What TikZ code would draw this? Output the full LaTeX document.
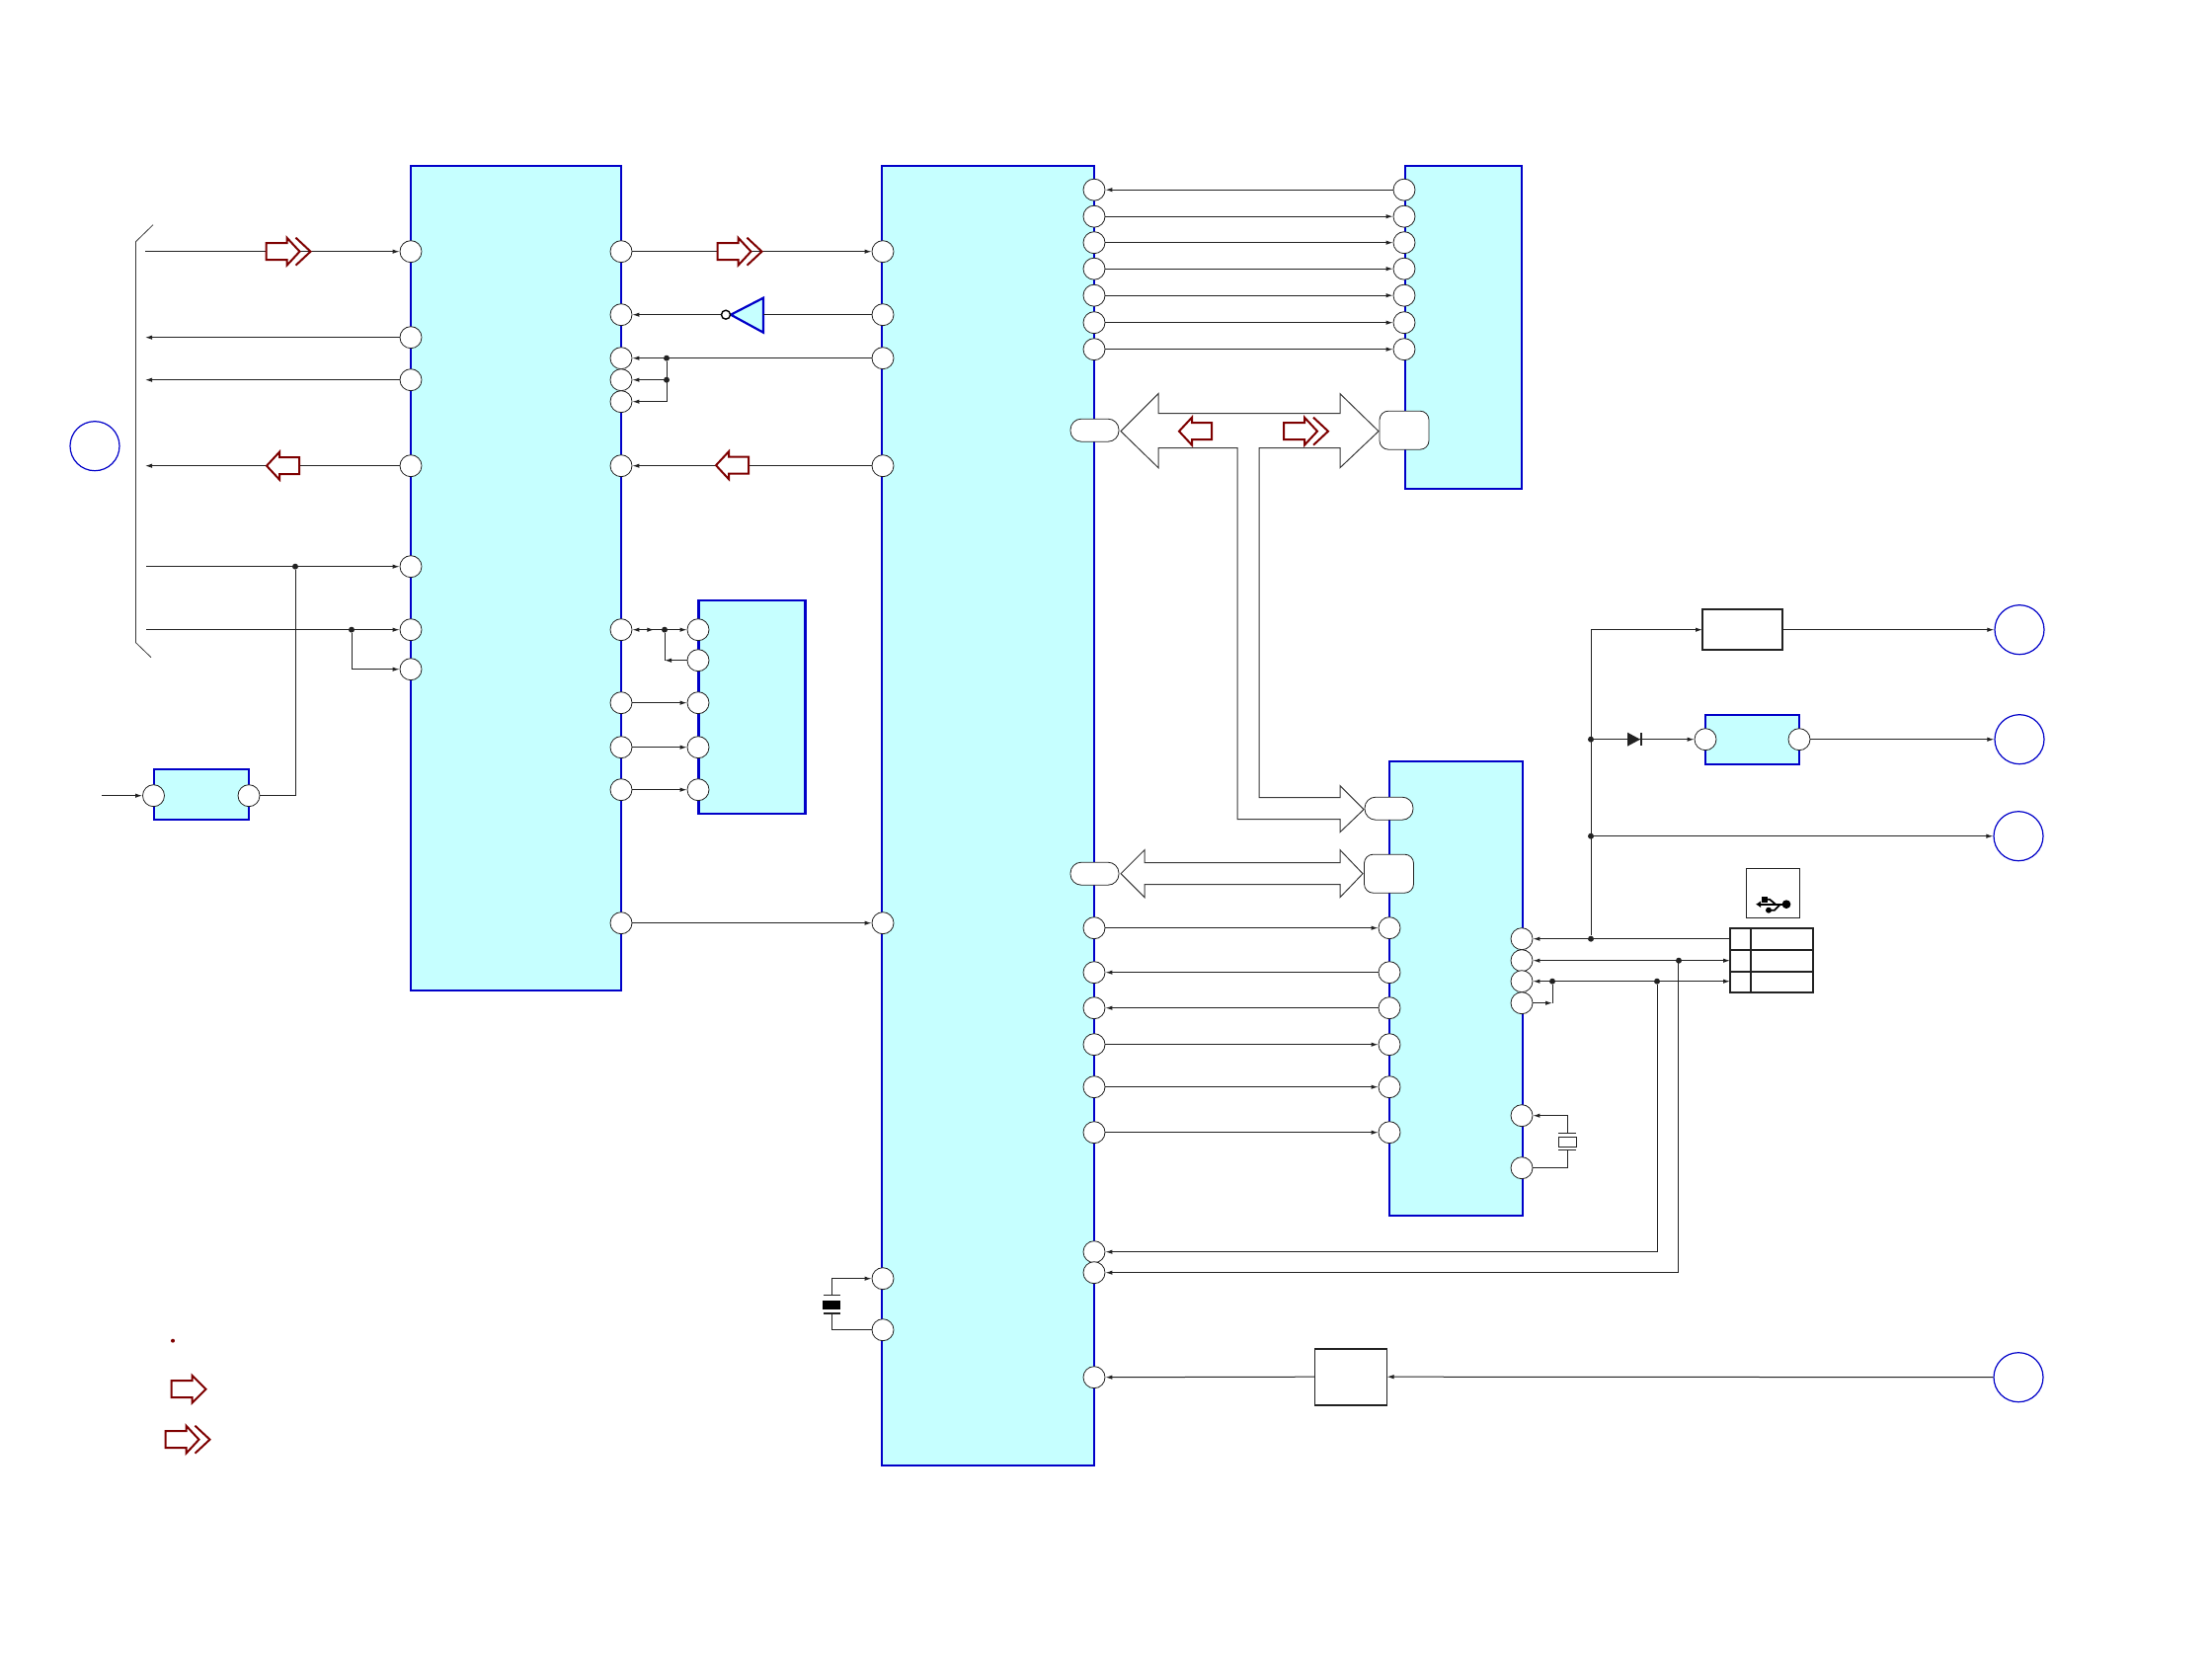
\documentclass[tikz,border=0pt]{standalone}
\usepackage{xcolor}
\usetikzlibrary{arrows.meta,calc}
\definecolor{icblue}{HTML}{0000C8}
\definecolor{icfill}{HTML}{C6FFFF}
\definecolor{flowred}{HTML}{7E0000}
\definecolor{wireblack}{HTML}{222222}
\definecolor{busgray}{HTML}{3A3A3A}
\tikzset{
  block/.style 2 args={draw=icblue, fill=icfill, line width=1.1pt, inner sep=0pt, outer sep=0pt,
    minimum width=#1*0.5pt, minimum height=#2*0.5pt},
  plainbox/.style 2 args={draw=wireblack, fill=white, line width=0.9pt, inner sep=0pt, outer sep=0pt,
    minimum width=#1*0.5pt, minimum height=#2*0.5pt},
  pin/.style={circle, draw=wireblack, fill=white, line width=0.4pt, inner sep=0pt, minimum size=11pt},
  padlong/.style={rectangle, rounded corners=5.5pt, draw=wireblack, fill=white, line width=0.4pt,
    inner sep=0pt, minimum width=24.5pt, minimum height=11.5pt},
  padbig/.style={rectangle, rounded corners=4.5pt, draw=wireblack, fill=white, line width=0.4pt,
    inner sep=0pt, minimum width=25pt, minimum height=19.5pt},
  port/.style={circle, draw=icblue, line width=0.6pt, inner sep=0pt, minimum size=25pt},
  junct/.style={circle, fill=wireblack, inner sep=0pt, minimum size=3pt},
  wire/.style={draw=wireblack, line width=0.5pt},
  sig/.style={wire, -{Latex[length=3.5pt,width=2.2pt]}},
  sigboth/.style={wire, {Latex[length=3.5pt,width=2.2pt]}-{Latex[length=3.5pt,width=2.2pt]}},
  bus/.style={draw=busgray, fill=white, line width=0.5pt, line join=miter},
  flow/.style={draw=flowred, fill=white, line width=1pt, line join=miter},
  flowleft/.pic={\draw[flow] (0,0) -- (13,-14) -- (13,-8.5) -- (33,-8.5) -- (33,8.5) -- (13,8.5) -- (13,14) -- cycle;},
  flowright/.pic={\draw[flow] (0,-8.5) -- (21,-8.5) -- (21,-14) -- (35,0) -- (21,14) -- (21,8.5) -- (0,8.5) -- cycle;},
  flowdouble/.pic={\draw[flow] (0,-8.5) -- (21,-8.5) -- (21,-14) -- (34,0) -- (21,14) -- (21,8.5) -- (0,8.5) -- cycle;
    \draw[flow, fill=none] (30,-14) -- (45,0) -- (30,14);},
}
\begin{document}
\begin{tikzpicture}[x=0.5pt,y=-0.5pt]
  \useasboundingbox (0,-0.7) rectangle (2240,1683.3);
  % blocks
  \node[block={213}{835}] (ica) at (522.5,585) {};
  \node[block={215}{1316}] (icb) at (1000.5,825.5) {};
  \node[block={108}{216}] (icc) at (761.5,715.5) {};
  \node[block={118}{327}] (icd) at (1482,331) {};
  \node[block={135}{460}] (ice) at (1474.5,1000.5) {};
  \node[block={96}{51}] (icf) at (204,804) {};
  \node[block={95}{50}] (ich) at (1774.5,748.5) {};
  \node[plainbox={81}{41}] (fuse) at (1764.5,637) {};
  \node[plainbox={73}{57}] (reg) at (1368,1393.5) {};
  % bracket on the left
  \draw[busgray, line width=0.4pt] (155,227) -- (137.5,244) -- (137.5,650) -- (153,665);
  % buses
  \draw[bus] (1135,436) -- (1173,398) -- (1173,418) -- (1357,418) -- (1357,398) -- (1396,436)
    -- (1357,473) -- (1357,453) -- (1275,453) -- (1275,807) -- (1357,807) -- (1357,795)
    -- (1381,819) -- (1357,842) -- (1357,829) -- (1253,829) -- (1253,453) -- (1173,453)
    -- (1173,473) -- cycle;
  \draw[bus] (1135,884) -- (1159,860) -- (1159,873) -- (1357,873) -- (1357,860) -- (1380,884)
    -- (1357,908) -- (1357,895) -- (1159,895) -- (1159,908) -- cycle;
  % pins
  \foreach \n/\y in {1/254,2/341,3/384,4/471,5/573,6/637,7/677}
    \node[pin] (al\n) at (416,\y) {};
  \foreach \n/\y in {1/254,2/318,3/362,4/384,5/406,6/471,7/637,8/711,9/756,10/799,11/934}
    \node[pin] (ar\n) at (629,\y) {};
  \foreach \n/\y in {1/254,2/318,3/362,4/471,5/934,6/1294,7/1346}
    \node[pin] (bl\n) at (894,\y) {};
  \foreach \n/\y in {1/191.5,2/218.5,3/245,4/271.5,5/298.5,6/326,7/353,8/939,9/984,10/1020,11/1057,12/1100,13/1146,14/1267,15/1288,16/1394}
    \node[pin] (br\n) at (1108,\y) {};
  \foreach \n/\y in {1/637,2/668,3/711,4/756,5/799}
    \node[pin] (cl\n) at (707,\y) {};
  \foreach \n/\y in {1/191.5,2/218.5,3/245,4/271.5,5/298.5,6/326,7/353}
    \node[pin] (dl\n) at (1422,\y) {};
  \foreach \n/\y in {1/939,2/984,3/1020,4/1057,5/1100,6/1146}
    \node[pin] (el\n) at (1407,\y) {};
  \foreach \n/\y in {1/950,2/972,3/993,4/1015,5/1129,6/1182}
    \node[pin] (er\n) at (1541,\y) {};
  \node[pin] (fl) at (155.5,805) {};
  \node[pin] (fr) at (252,805) {};
  \node[pin] (hl) at (1727,748) {};
  \node[pin] (hr) at (1822,748) {};
  \node[padlong] (padb1) at (1108.5,435) {};
  \node[padlong] (padb2) at (1108.5,884) {};
  \node[padbig] (padd) at (1422,435) {};
  \node[padlong] (pade1) at (1406.5,818) {};
  \node[padbig] (pade2) at (1406.5,884) {};
  % ports
  \node[port] (conn) at (96,451) {};
  \node[port] (outa) at (2045,637) {};
  \node[port] (outb) at (2045,748) {};
  \node[port] (outc) at (2044,846) {};
  \node[port] (outd) at (2044,1394) {};
  % left side
  \coordinate (cn1) at (147,254);
  \coordinate (cn2) at (147,341);
  \coordinate (cn3) at (147,384);
  \coordinate (cn4) at (147,471);
  \coordinate (cn5) at (148,573);
  \coordinate (cn6) at (148,637);
  \coordinate (inf) at (103,805);
  \node[junct] (j1) at (299,573) {};
  \node[junct] (j2) at (356,637) {};
  \draw[sig] (cn1) -- (al1);
  \draw[sig] (al2) -- (cn2);
  \draw[sig] (al3) -- (cn3);
  \draw[sig] (al4) -- (cn4);
  \draw[sig] (cn5) -- (al5);
  \draw[sig] (cn6) -- (al6);
  \draw[wire] (fr) -| (j1);
  \draw[sig] (j2) |- (al7);
  \draw[sig] (inf) -- (fl);
  % between the two large blocks
  \node[junct] (j3) at (675,362) {};
  \node[junct] (j4) at (675,384) {};
  \node[junct] (j5) at (673,637) {};
  \coordinate (bend) at (675,406);
  \coordinate (memc) at (673,668);
  \draw[sig] (ar1) -- (bl1);
  \draw[fill=icfill, draw=icblue, line width=1.1pt, line join=miter] (773,301) -- (773,336) -- (740,318) -- cycle;
  \node[circle, draw=black, fill=white, line width=0.7pt, inner sep=0pt, minimum size=4.5pt] (inv) at (735,318) {};
  \draw[wire] (bl2) -- (773,318);
  \draw[sig] (inv) -- (ar2);
  \draw[sig] (bl3) -- (ar3);
  \draw[wire] (j3) -- (bend);
  \draw[sig] (j4) -- (ar4);
  \draw[sig] (bend) -- (ar5);
  \draw[sig] (bl4) -- (ar6);
  \draw[sig] (j5) -- (ar7);
  \draw[sig] (j5) -- (cl1);
  \draw[sig] ($(ar7.east)+(10,0)$) -- ($(ar7.east)+(22,0)$);
  \draw[sig] (cl2) -- (memc);
  \draw[wire] (memc) -- (j5);
  \draw[sig] (ar8) -- (cl3);
  \draw[sig] (ar9) -- (cl4);
  \draw[sig] (ar10) -- (cl5);
  \draw[sig] (ar11) -- (bl5);
  % upper right block
  \draw[sig] (dl1) -- (br1);
  \foreach \n in {2,...,7}
    \draw[sig] (br\n) -- (dl\n);
  % lower right block
  \draw[sig] (br8) -- (el1);
  \draw[sig] (el2) -- (br9);
  \draw[sig] (el3) -- (br10);
  \draw[sig] (br11) -- (el4);
  \draw[sig] (br12) -- (el5);
  \draw[sig] (br13) -- (el6);
  % usb connector
  \node[plainbox={84}{65}] (usbt) at (1794,971.5) {};
  \draw[wireblack, line width=0.9pt] (1752,961) -- (1836,961);
  \draw[wireblack, line width=0.9pt] (1752,983) -- (1836,983);
  \draw[wireblack, line width=1.4pt] (1773,939) -- (1773,1004);
  \node[draw=wireblack, fill=white, line width=0.5pt, inner sep=0pt, minimum width=27pt, minimum height=25pt] (usbk) at (1795,904) {};
  \draw[black, line width=1pt, -{Latex[length=2.5pt,width=3.5pt]}] (1809,915) -- (1778,915);
  \fill[black] (1809,915) circle (2.2pt);
  \draw[black, line width=0.9pt] (1787,910) -- (1792,910) -- (1798,915);
  \draw[black, line width=0.9pt] (1791,921) -- (1797,921) -- (1803,915);
  \fill[black] (1784,907) rectangle (1790,913);
  \fill[black] (1791,921) circle (1.5pt);
  \coordinate (us1) at (1752,950);
  \coordinate (us2) at (1752,972);
  \coordinate (us3) at (1752,993);
  \coordinate (ernd) at (1572,1015);
  \node[junct] (j6) at (1611,950) {};
  \node[junct] (j7) at (1611,748) {};
  \node[junct] (j8) at (1611,846) {};
  \node[junct] (j9) at (1700,972) {};
  \node[junct] (j10) at (1678,993) {};
  \node[junct] (j11) at (1572,993) {};
  \draw[sig] (us1) -- (er1);
  \draw[sigboth] (er2) -- (us2);
  \draw[sig] (j11) -- (er3);
  \draw[sig] (j11) -- (us3);
  \draw[sig] (er4) -- (ernd);
  \draw[wire] (ernd) -- (j11);
  \draw[sig] ($(j9)+(-1,0)$) |- (br15);
  \draw[sig] (j10) |- (br14);
  \draw[sig] (j6) |- (fuse.west);
  \draw[sig] (fuse.east) -- (outa);
  \draw[sig] (j8) -- (outc);
  \draw[sig] (j7) -- (hl);
  \draw[sig] (hr) -- (outb);
  % diode
  \fill[wireblack] (1648,741) -- (1661,748) -- (1648,755) -- cycle;
  \draw[wireblack, line width=0.8pt] (1662,741.5) -- (1662,754.5);
  % crystal right
  \coordinate (xra) at (1587,1147);
  \coordinate (xrb) at (1587,1164);
  \draw[sig] (xra) |- (er5);
  \draw[wire] (xrb) |- (er6);
  \draw[wire] (1578,1147) -- (1596,1147);
  \draw[wire] (1578,1164) -- (1596,1164);
  \draw[wire] (1578,1151) rectangle (1596,1161);
  % crystal left
  \coordinate (xla) at (842,1311);
  \coordinate (xlb) at (842,1329);
  \draw[sig] (xla) |- (bl6);
  \draw[wire] (xlb) |- (bl7);
  \draw[wire] (834,1311) -- (851,1311);
  \draw[wireblack, line width=1pt] (834,1329) -- (851,1329);
  \fill[black] (833,1316) rectangle (851,1325);
  % regulator
  \draw[sig] (outd) -- (reg.east);
  \draw[sig] (reg.west) -- (br16);
  % flow marks
  \path (269.5,254) pic {flowdouble};
  \path (726.5,254) pic {flowdouble};
  \path (270,471) pic {flowleft};
  \path (725,470.5) pic {flowleft};
  \path (1194,436) pic {flowleft};
  \path (1300,436) pic {flowdouble};
  % key
  \fill[flowred] (175,1357) circle (1pt);
  \path (173.5,1406) pic {flowright};
  \path (167.5,1457) pic {flowdouble};
\end{tikzpicture}
\end{document}
